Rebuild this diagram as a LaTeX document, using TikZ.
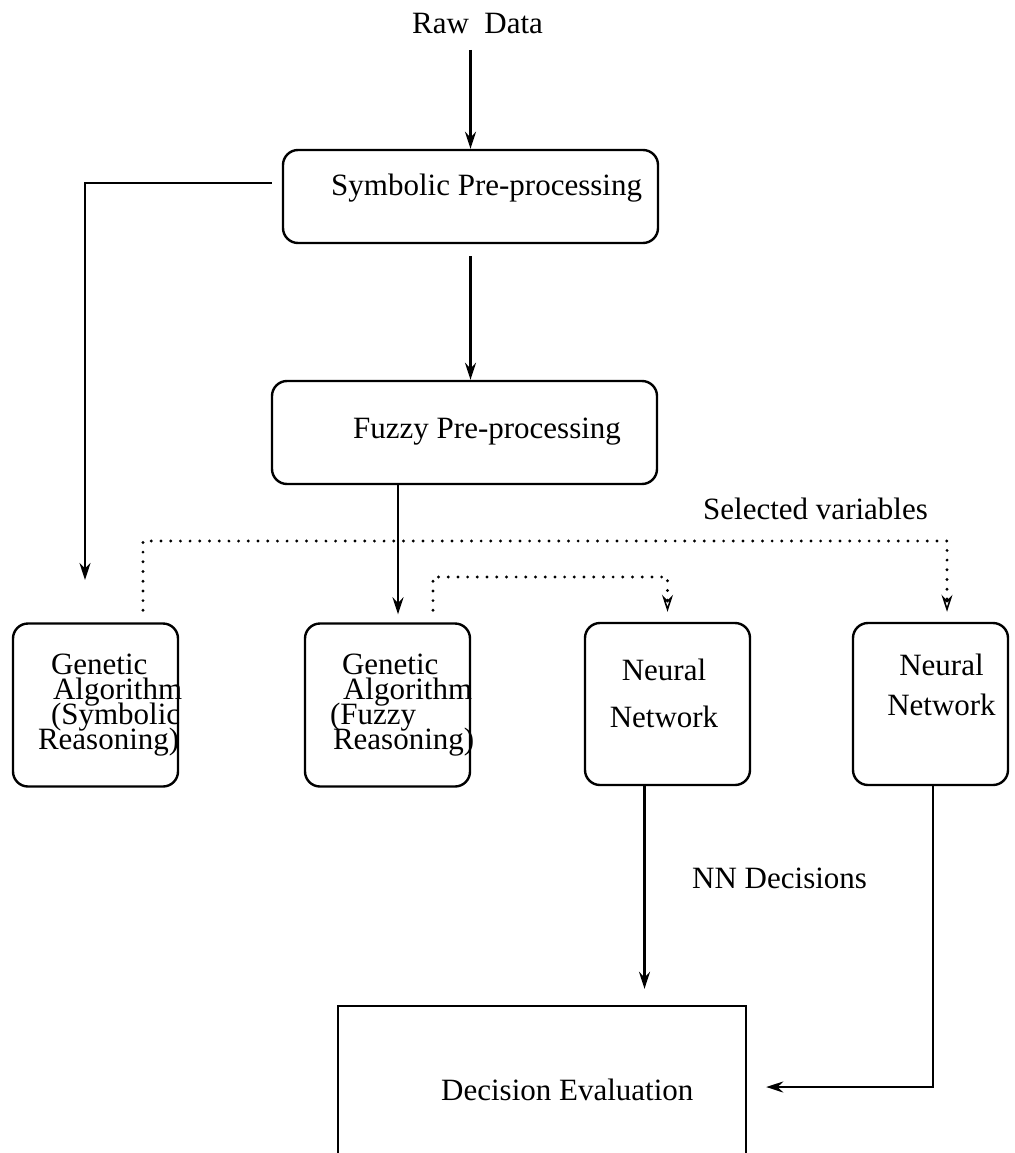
\documentclass[tikz,border=0pt]{standalone}
\usepackage{fontspec}
\setmainfont{Liberation Serif}
\usetikzlibrary{arrows.meta}
\hyphenpenalty=10000
\newcommand\dgmfont{\fontsize{31}{25}\selectfont\lineskiplimit-50pt\relax}

\begin{document}
\begin{tikzpicture}[x=1pt,y=-1pt,
    every node/.style={font=\dgmfont, inner sep=0pt},
    blk/.style={draw, line width=2.4pt, rounded corners=15pt},
    gabox/.style={blk, minimum width=165pt, minimum height=163pt, inner xsep=25pt, text width=115pt, align=left},
    nnbox/.style={blk, minimum height=162pt},
    arr/.style={line width=2.2pt, -{Stealth[length=17pt,width=11pt]}},
    sel/.style={line width=3.2pt, line cap=round, dash pattern=on 0pt off 9.7pt,
      -{Stealth[open,length=17pt,width=11pt,line width=1.6pt]}, shorten <=12pt, shorten >=10pt}]
  \useasboundingbox (0,0) rectangle (1014,1153);
  \clip (0,0) rectangle (1014,1153);

  \node[anchor=base] (raw) at (477.5,34) {Raw\ \ Data};
  \node[blk, minimum width=375pt, minimum height=93pt] (sym) at (470.5,196.5) {};
  \node[anchor=base west] (symtxt) at (331,195) {Symbolic Pre-processing};
  \node[blk, minimum width=385pt, minimum height=103pt] (fuz) at (464.5,432.5) {};
  \node[anchor=base west] (fuztxt) at (353,438) {Fuzzy Pre-processing};

  \node[gabox] (ga1) at (95.5,705) {\hspace*{13pt}Genetic\\\hspace*{15pt}Algorithm\\\hspace*{13pt}(Symbolic\\Reasoning)};
  \node[gabox] (ga2) at (387.5,705) {\hspace*{12pt}Genetic\\\hspace*{13pt}Algorithm\\(Fuzzy\\\hspace*{3pt}Reasoning)};
  \node[nnbox, minimum width=165pt] (nn1) at (667.5,704) {};
  \node[align=center] (nn1txt) at (664,693) {Neural\\[22pt]Network};
  \node[nnbox, minimum width=155pt] (nn2) at (930.5,704) {};
  \node[align=center] (nn2txt) at (941.5,684.5) {Neural\\[15pt]Network};

  \node[draw, line width=2.4pt, minimum width=408pt, minimum height=194pt] (dec) at (542,1103) {};
  \node[anchor=base west] (dectxt) at (441,1100) {Decision Evaluation};

  \node[anchor=base west] (selvar) at (703,519) {Selected variables};
  \node[anchor=base west] (nndec) at (692,888) {NN Decisions};

  \coordinate (gaturn) at (85,183);
  \coordinate (gaend) at (85,580);
  \coordinate (selL) at (143,541);
  \coordinate (selR) at (947,541);
  \coordinate (selM) at (433,577);
  \coordinate (decturn) at (933,1087);

  \draw[arr] ([yshift=-16pt]raw.base -| sym.north) -- (sym.north);
  \draw[arr] ([yshift=-12pt]sym.south) -- (sym.south |- fuz.north);
  \draw[arr] ([xshift=-10pt]sym.west |- gaturn) -- (gaturn) -- (gaend);
  \draw[arr] ([xshift=10.5pt]ga2.north |- fuz.south) -- ([xshift=10.5pt,yshift=8pt]ga2.north);
  \draw[sel] (selL |- ga1.north) -- (selL) -- (selR) -- (selR |- nn2.north);
  \draw[sel] (selM |- ga2.north) -- (selM) -- (selM -| nn1.north) -- (nn1.north);
  \draw[arr, shorten >=16pt] ([xshift=-23pt]nn1.south) -- ([xshift=-23pt]nn1.south |- dec.north);
  \draw[arr, shorten >=19pt] (nn2.south -| decturn) -- (decturn) -- (decturn -| dec.east);
\end{tikzpicture}
\end{document}
